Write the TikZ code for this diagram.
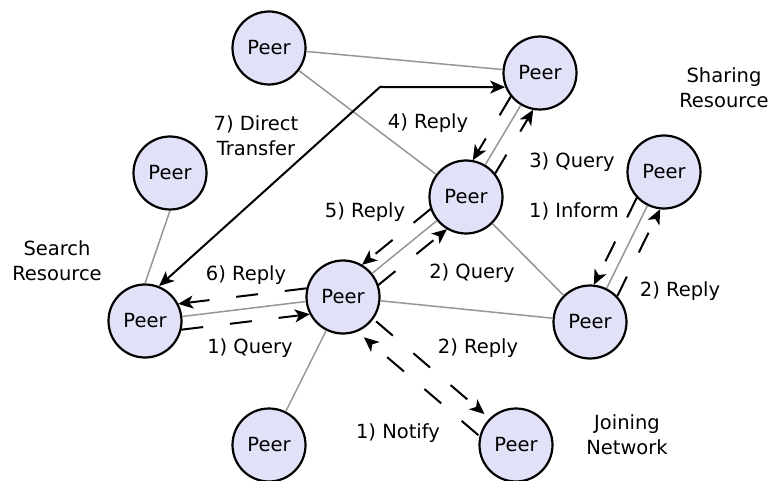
\documentclass[tikz,border=0pt]{standalone}
\usepackage{fontspec}
\setmainfont{DejaVu Sans}
\usetikzlibrary{positioning}
\usetikzlibrary{calc}
\usetikzlibrary{arrows.meta}
\definecolor{peerfill}{RGB}{225,225,248}
\definecolor{linkgray}{RGB}{150,150,150}

\begin{document}
\begin{tikzpicture} [x=1pt, y=1pt, on grid,
        every node/.style = {font=\fontsize{19.5}{25}\selectfont},
        peer/.style = {draw, circle, line width=2.2pt, fill=peerfill, minimum size=73pt, inner sep=0pt},
        link/.style = {draw=linkgray, line width=1.5pt},
        msg/.style = {line width=2pt, dash pattern=on 22pt off 27pt, -{Stealth[length=15pt,width=13pt,inset=4pt]}, shorten <=35pt, shorten >=35pt},
        transfer/.style = {line width=2pt, {Stealth[length=15pt,width=13pt,inset=4pt]}-{Stealth[length=15pt,width=13pt,inset=4pt]}},
        note/.style = {align=center}]
        \useasboundingbox (0,0) rectangle (774,480);

        %Peers
        \node[peer] (p7) at (343,183) {Peer};
        \node[peer] (p6) [below left = 24pt and 198pt of p7] {Peer};
        \node[peer] (p4) [above right = 100pt and 123pt of p7] {Peer};
        \node[peer] (p8) [below right = 25pt and 247pt of p7] {Peer};
        \node[peer] (p9) [below left = 148pt and 74pt of p7] {Peer};
        \node[peer] (p10) [below right = 148pt and 173pt of p7] {Peer};
        \node[peer] (p3) [above right = 148pt and 25pt of p6] {Peer};
        \node[peer] (p2) [above right = 124pt and 74pt of p4] {Peer};
        \node[peer] (p1) [above left = 149pt and 197pt of p4] {Peer};
        \node[peer] (p5) [above right = 150pt and 74pt of p8] {Peer};

        %Verbindungen
        \draw[link] (p1) -- (p2);
        \draw[link] (p1) -- (p4);
        \draw[link] (p3.south) -- (p6.north);
        \draw[link] (p6) -- (p7);
        \draw[link] (p7) -- (p4);
        \draw[link] (p4) -- (p2);
        \draw[link] (p4) -- (p8);
        \draw[link] (p7) -- (p8);
        \draw[link] (p8) -- (p5);
        \draw[link] (p7) -- (p9);

        %Nachrichten
        \draw[msg] ($(p6)!13pt!-90:(p7)$) -- ($(p7)!13pt!90:(p6)$);
        \draw[msg] ($(p7)!13pt!-90:(p6)$) -- ($(p6)!13pt!90:(p7)$);
        \draw[msg] ($(p7)!13pt!-90:(p4)$) -- ($(p4)!13pt!90:(p7)$);
        \draw[msg] ($(p4)!13pt!-90:(p7)$) -- ($(p7)!13pt!90:(p4)$);
        \draw[msg] ($(p4)!13pt!-90:(p2)$) -- ($(p2)!13pt!90:(p4)$);
        \draw[msg] ($(p2)!13pt!-90:(p4)$) -- ($(p4)!13pt!90:(p2)$);
        \draw[msg] ($(p5)!13pt!-90:(p8)$) -- ($(p8)!13pt!90:(p5)$);
        \draw[msg] ($(p8)!13pt!-90:(p5)$) -- ($(p5)!13pt!90:(p8)$);
        \draw[msg, shorten <=41pt, shorten >=44pt] ($(p7)!3pt!90:(p10)$) -- ($(p10)!3pt!-90:(p7)$);
        \draw[msg, shorten <=35pt, shorten >=42pt] ($(p10)!17pt!90:(p7)$) -- ($(p7)!17pt!-90:(p10)$);

        \coordinate (bend) at (380,393);
        \draw[transfer] (p6.68) -- (bend) -- (p2.202);

        %Beschriftungen
        \node[note] (t7) at (256,344) {7) Direct\\Transfer};
        \node (r4) at (428,357) {4) Reply};
        \node[note] (share) at (724,392) {Sharing\\Resource};
        \node (q3) at (572,318) {3) Query};
        \node (i1) at (574,269) {1) Inform};
        \node (r5) at (365,268) {5) Reply};
        \node (q2) at (472,207) {2) Query};
        \node[note] (search) at (57,219) {Search\\Resource};
        \node (r6) at (246,205) {6) Reply};
        \node (q1) at (250,132) {1) Query};
        \node (n1) at (398,47) {1) Notify};
        \node (r2a) at (478,132) {2) Reply};
        \node (r2b) at (680,189) {2) Reply};
        \node[note] (join) at (627,45) {Joining\\Network};

    \end{tikzpicture}
\end{document}
